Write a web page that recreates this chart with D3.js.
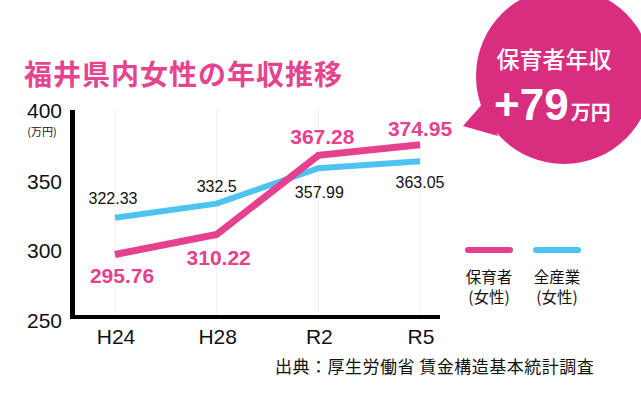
<!DOCTYPE html>
<html>
<head>
<meta charset="utf-8">
<script src="https://cdn.jsdelivr.net/npm/d3@7"></script>
<style>
  body { margin: 0; background: #fff; }
  svg { display: block; font-family: "Liberation Sans", Arial, "Noto Sans CJK JP", sans-serif; }
  .jp { font-family: "Noto Sans CJK JP", sans-serif; }
</style>
</head>
<body>
<svg id="chart" width="641" height="399"></svg>
<script>
const years = ["H24", "H28", "R2", "R5"];
const hoikuValues = [295.76, 310.22, 367.28, 374.95];
const allValues = [322.33, 332.5, 357.99, 363.05];
const yTicks = [250, 300, 350, 400];

const pink = "#e6418e";
const blue = "#4fc3ef";

const svg = d3.select("#chart");

const x = d3.scalePoint().domain(years).range([115, 420]);
const y = d3.scaleLinear().domain([250, 400]).range([318, 110]);

// title
svg.append("text")
    .attr("class", "jp")
    .attr("x", 24)
    .attr("y", 73)
    .attr("dominant-baseline", "central")
    .attr("fill", "#e5458f")
    .attr("font-size", "28px")
    .attr("font-weight", "bold")
    .attr("letter-spacing", "1px")
    .text("福井県内女性の年収推移");

// gridlines
svg.append("g").selectAll("line")
    .data(years)
    .join("line")
    .attr("x1", d => x(d)).attr("x2", d => x(d))
    .attr("y1", 110).attr("y2", 316)
    .attr("stroke", "#eeeeee")
    .attr("stroke-width", 1);

// axes lines
svg.append("line")
    .attr("x1", 72.5).attr("x2", 72.5)
    .attr("y1", 110).attr("y2", 319)
    .attr("stroke", "#000").attr("stroke-width", 5);
svg.append("line")
    .attr("x1", 70).attr("x2", 440)
    .attr("y1", 317).attr("y2", 317)
    .attr("stroke", "#000").attr("stroke-width", 4);

// y tick labels
svg.append("g").selectAll("text")
    .data(yTicks)
    .join("text")
    .attr("x", 62)
    .attr("y", d => y(d) + (d === 400 ? 0 : 2))
    .attr("text-anchor", "end")
    .attr("dominant-baseline", "central")
    .attr("font-size", "21px")
    .attr("fill", "#111")
    .text(d => d);

svg.append("text")
    .attr("class", "jp")
    .attr("x", 42)
    .attr("y", 131)
    .attr("text-anchor", "middle")
    .attr("dominant-baseline", "central")
    .attr("font-size", "11px")
    .attr("fill", "#111")
    .text("(万円)");

// x tick labels
svg.append("g").selectAll("text")
    .data(years)
    .join("text")
    .attr("x", d => x(d) + 1)
    .attr("y", 336)
    .attr("text-anchor", "middle")
    .attr("dominant-baseline", "central")
    .attr("font-size", "21px")
    .attr("fill", "#111")
    .text(d => d);

// lines
const line = d3.line()
    .x((d, i) => x(years[i]))
    .y(d => y(d));

svg.append("path")
    .attr("d", line(allValues))
    .attr("fill", "none")
    .attr("stroke", blue)
    .attr("stroke-width", 6);

svg.append("path")
    .attr("d", line(hoikuValues))
    .attr("fill", "none")
    .attr("stroke", pink)
    .attr("stroke-width", 7);

// value labels
const allOffsets = [[-2, -19], [0, -17], [1, 24], [0, 21]];
const hoikuOffsets = [[7, 21], [2, 23], [4, -19], [0, -16]];

svg.append("g").selectAll("text")
    .data(allValues)
    .join("text")
    .attr("x", (d, i) => x(years[i]) + allOffsets[i][0])
    .attr("y", (d, i) => y(d) + allOffsets[i][1])
    .attr("text-anchor", "middle")
    .attr("dominant-baseline", "central")
    .attr("font-size", "16px")
    .attr("fill", "#111")
    .text(d => d);

svg.append("g").selectAll("text")
    .data(hoikuValues)
    .join("text")
    .attr("x", (d, i) => x(years[i]) + hoikuOffsets[i][0])
    .attr("y", (d, i) => y(d) + hoikuOffsets[i][1])
    .attr("text-anchor", "middle")
    .attr("dominant-baseline", "central")
    .attr("font-size", "21px")
    .attr("font-weight", "bold")
    .attr("fill", pink)
    .text(d => d);

// legend
const legendItems = [
    { color: pink, name: "保育者", x: 489 },
    { color: blue, name: "全産業", x: 557 }
];
const legend = svg.append("g").selectAll("g")
    .data(legendItems)
    .join("g")
    .attr("transform", d => `translate(${d.x}, 0)`);

legend.append("line")
    .attr("x1", -21).attr("x2", 21)
    .attr("y1", 250).attr("y2", 250)
    .attr("stroke", d => d.color)
    .attr("stroke-width", 6)
    .attr("stroke-linecap", "round");

legend.append("text")
    .attr("class", "jp")
    .attr("y", 276)
    .attr("text-anchor", "middle")
    .attr("dominant-baseline", "central")
    .attr("font-size", "15.5px")
    .attr("fill", "#111")
    .text(d => d.name);

legend.append("text")
    .attr("class", "jp")
    .attr("y", 296)
    .attr("text-anchor", "middle")
    .attr("dominant-baseline", "central")
    .attr("font-size", "15.5px")
    .attr("fill", "#111")
    .text("(女性)");

// source
svg.append("text")
    .attr("class", "jp")
    .attr("x", 275)
    .attr("y", 365)
    .attr("dominant-baseline", "central")
    .attr("font-size", "17px")
    .attr("letter-spacing", "0.5px")
    .attr("fill", "#111")
    .text("出典：厚生労働省 賃金構造基本統計調査");

// speech bubble
const bubble = svg.append("g");
const bubbleColor = "#d92d7f";
bubble.append("path")
    .attr("d", "M463,126 L484,102 L498,136 Z")
    .attr("fill", bubbleColor);
bubble.append("circle")
    .attr("cx", 564).attr("cy", 76).attr("r", 88)
    .attr("fill", bubbleColor);

bubble.append("text")
    .attr("class", "jp")
    .attr("x", 554)
    .attr("y", 58)
    .attr("text-anchor", "middle")
    .attr("dominant-baseline", "central")
    .attr("font-size", "23px")
    .attr("font-weight", "500")
    .attr("fill", "#fff")
    .text("保育者年収");

const big = bubble.append("text")
    .attr("x", 494)
    .attr("y", 120)
    .attr("fill", "#fff")
    .attr("font-weight", "bold");
big.append("tspan").attr("font-size", "44px").text("+79");
big.append("tspan").attr("class", "jp").attr("font-size", "20px").attr("dx", 2).text("万円");
</script>
</body>
</html>
